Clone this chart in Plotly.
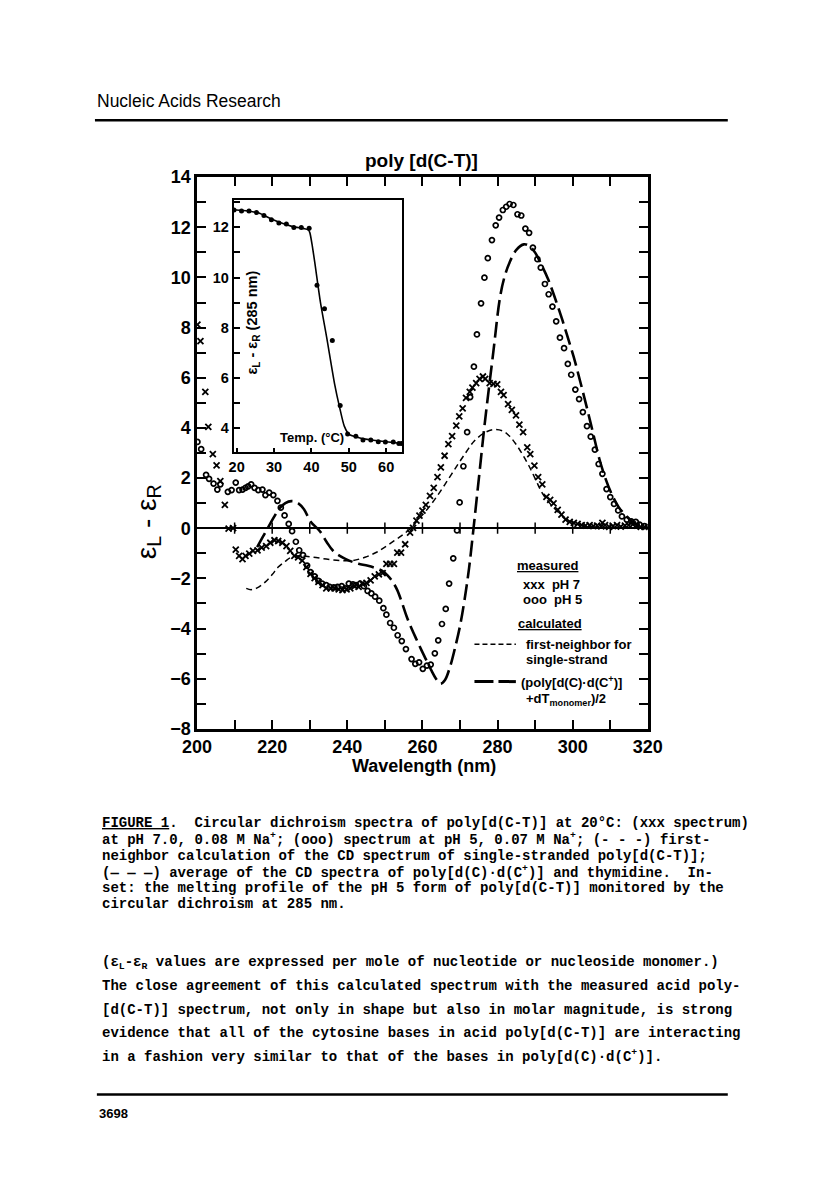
import plotly.graph_objects as go

# pH 7 spectrum (xxx)
ph7_wl = [200.1, 200.9, 202.2, 203.0, 204.2, 205.2, 206.2, 207.4, 208.4, 209.6,
          210.3, 211.2, 212.1, 212.9, 213.9, 214.9, 216.1, 217.2, 218.4, 219.5,
          220.6, 221.6, 222.7, 223.8, 224.8, 225.9, 226.9, 228.0, 229.1, 230.2,
          231.3, 232.3, 233.4, 234.4, 235.6, 236.6, 237.7, 238.7, 239.8, 240.8,
          242.0, 243.0, 244.0, 245.1, 246.2, 247.3, 248.4, 249.4, 250.4, 251.4,
          252.4, 253.3, 254.3, 255.4, 256.7, 257.5, 258.4, 259.2, 260.0, 260.9,
          262.0, 263.0, 264.0, 264.9, 265.9, 266.9, 267.9, 269.0, 269.8, 270.7,
          271.6, 272.6, 273.3, 274.3, 275.2, 276.1, 276.7, 277.9, 278.9, 279.9,
          280.9, 281.6, 282.8, 283.8, 284.9, 285.8, 286.8, 287.9, 288.7, 289.8,
          290.8, 291.9, 293.0, 294.0, 294.9, 296.0, 297.0, 298.1, 299.2, 300.3,
          301.3, 302.4, 303.4, 304.5, 305.5, 306.5, 307.6, 307.9, 308.6, 309.7,
          310.7, 311.8, 312.8, 313.9, 314.9, 316.0, 317.0, 318.1, 319.1]
ph7_val = [8.12, 7.46, 5.44, 4.04, 2.95, 2.51, 1.88, 0.93, -0.02, 0.0,
           -0.85, -1.10, -1.23, -1.10, -1.01, -0.90, -0.88, -0.77, -0.71, -0.58,
           -0.48, -0.51, -0.58, -0.71, -0.90, -1.10, -1.16, -1.29, -1.55, -1.82,
           -1.99, -2.14, -2.27, -2.40, -2.40, -2.40, -2.44, -2.47, -2.44, -2.40,
           -2.31, -2.34, -2.21, -2.18, -2.08, -1.92, -1.84, -1.79, -1.42, -1.42,
           -1.42, -0.97, -0.97, -0.64, -0.18, 0.01, 0.30, 0.50, 0.70, 0.93,
           1.29, 1.61, 2.04, 2.43, 2.89, 3.35, 3.67, 4.09, 4.46, 4.78,
           5.20, 5.44, 5.61, 5.79, 5.96, 6.05, 5.96, 5.79, 5.76, 5.74,
           5.44, 5.31, 4.95, 4.72, 4.50, 4.13, 3.83, 3.22, 2.95, 2.50,
           2.04, 1.75, 1.25, 1.13, 0.99, 0.73, 0.54, 0.34, 0.25, 0.21,
           0.17, 0.12, 0.10, 0.12, 0.08, 0.10, 0.07, 0.21, 0.12, 0.05,
           0.08, 0.12, 0.06, 0.10, 0.12, 0.15, 0.10, 0.05, 0.05]

# pH 5 spectrum (ooo)
ph5_wl = [200.1, 201.1, 202.4, 203.2, 204.4, 205.4, 206.2, 208.2, 209.2, 210.3,
          211.2, 212.1, 212.9, 213.6, 214.4, 215.3, 216.3, 217.4, 218.2, 219.2,
          220.3, 221.4, 222.3, 223.3, 224.4, 225.3, 226.3, 227.2, 228.2, 229.3,
          230.2, 231.3, 232.3, 233.3, 234.4, 235.3, 236.4, 237.4, 238.5, 239.4,
          240.4, 241.5, 242.3, 243.4, 244.4, 245.4, 246.4, 247.4, 248.5, 249.6,
          250.4, 251.4, 252.4, 253.4, 254.5, 255.6, 257.1, 258.1, 259.1, 260.1,
          261.2, 262.2, 263.3, 264.2, 265.2, 266.2, 267.1, 268.2, 269.2, 269.9,
          270.9, 271.9, 272.7, 273.7, 274.5, 275.6, 276.5, 277.4, 278.5, 279.5,
          280.4, 281.4, 282.3, 283.2, 284.2, 285.3, 286.3, 287.4, 288.4, 289.4,
          290.6, 291.5, 292.6, 293.6, 294.6, 295.6, 296.6, 297.7, 298.7, 299.6,
          300.7, 301.7, 302.7, 303.8, 304.8, 305.9, 306.9, 307.9, 309.0, 310.0,
          311.0, 312.1, 313.1, 314.4, 315.6, 316.8, 317.8, 319.1]
ph5_val = [3.44, 3.15, 2.13, 1.97, 1.78, 1.54, 1.75, 1.45, 1.52, 1.82,
           1.52, 1.54, 1.61, 1.67, 1.75, 1.61, 1.52, 1.54, 1.32, 1.42,
           1.32, 1.09, 0.82, 0.51, 0.17, -0.12, -0.54, -0.88, -1.07, -1.49,
           -1.75, -1.92, -2.10, -2.21, -2.27, -2.34, -2.36, -2.34, -2.31, -2.40,
           -2.21, -2.24, -2.27, -2.21, -2.31, -2.50, -2.60, -2.73, -2.89, -3.19,
           -3.45, -3.78, -3.97, -4.27, -4.50, -4.82, -5.22, -5.41, -5.35, -5.61,
           -5.48, -5.44, -4.99, -4.47, -3.82, -3.22, -2.21, -1.20, -0.09, 1.03,
           2.47, 3.83, 5.23, 6.44, 7.73, 8.97, 9.99, 10.77, 11.49, 12.08,
           12.39, 12.69, 12.82, 12.93, 12.89, 12.52, 12.47, 11.95, 11.78, 11.19,
           10.73, 10.39, 9.74, 9.33, 8.84, 8.25, 7.60, 7.18, 6.55, 6.12,
           5.53, 5.15, 4.63, 4.07, 3.65, 3.13, 2.56, 2.17, 1.56, 1.24,
           0.97, 0.71, 0.47, 0.34, 0.27, 0.25, 0.14, 0.08]

# first-neighbor calculation, single strand (short dashes)
fn_wl = [213.1, 214.4, 216.0, 218.2, 220.0, 221.6, 223.5, 225.1, 227.6, 231.0,
         234.4, 237.9, 241.3, 244.7, 247.5, 249.8, 252.5, 254.9, 257.0, 259.2,
         261.8, 264.4, 267.0, 269.5, 271.7, 273.8, 276.5, 278.9, 281.5, 283.3,
         284.9, 286.6, 288.3, 290.0, 291.7, 293.4, 295.1, 296.8, 298.5, 300.3,
         302.0, 304.5, 307.1, 311.0, 316.0]
fn_val = [-2.40, -2.45, -2.38, -2.14, -1.85, -1.55, -1.32, -1.16, -1.10, -1.16,
          -1.23, -1.29, -1.29, -1.16, -0.98, -0.77, -0.50, -0.25, 0.02, 0.40,
          0.85, 1.39, 1.98, 2.56, 3.05, 3.48, 3.80, 3.93, 3.87, 3.65,
          3.35, 2.95, 2.50, 1.98, 1.45, 1.08, 0.80, 0.55, 0.34, 0.22,
          0.14, 0.07, 0.03, 0.01, 0.0]

# (poly[d(C).d(C+)] + dT monomer)/2 (long dashes)
avg_wl = [216.0, 217.5, 219.0, 220.5, 222.0, 223.5, 225.1, 226.7, 228.5, 230.2,
          232.7, 234.5, 236.2, 238.0, 239.6, 241.5, 243.0, 245.5, 248.1, 249.5,
          250.7, 252.0, 253.3, 254.5, 255.8, 257.1, 258.4, 259.7, 260.9, 262.3,
          263.6, 264.8, 266.0, 267.3, 268.6, 270.0, 271.2, 272.4, 273.6, 275.1,
          276.6, 278.9, 280.6, 281.8, 283.2, 285.0, 287.0, 288.5, 290.0, 291.7,
          293.4, 295.0, 296.8, 298.5, 300.3, 302.0, 303.7, 305.4, 307.1, 308.8,
          310.5, 312.2, 313.9, 315.6, 317.4, 319.0, 320.0]
avg_val = [-0.75, -0.35, 0.05, 0.45, 0.80, 1.00, 1.08, 1.02, 0.75, 0.27,
           -0.12, -0.55, -0.90, -1.10, -1.23, -1.35, -1.42, -1.50, -1.62, -1.72,
           -1.88, -2.12, -2.47, -2.95, -3.52, -4.00, -4.43, -4.85, -5.22, -5.65,
           -6.00, -6.20, -6.05, -5.55, -4.82, -3.90, -2.86, -1.60, 0.0, 2.10,
           4.20, 7.07, 9.16, 10.00, 10.60, 11.10, 11.32, 11.25, 10.99, 10.50,
           9.95, 9.30, 8.51, 7.70, 6.81, 5.85, 4.85, 3.80, 2.76, 1.95,
           1.32, 0.85, 0.54, 0.30, 0.14, 0.05, 0.02]

# inset: melting profile at 285 nm
melt_t = [19.3, 21.3, 23.3, 25.3, 27.3, 29.3, 31.3, 33.3, 35.3, 37.3, 39.4,
          41.5, 43.5, 45.6, 47.7, 49.7, 51.9, 53.8, 55.9, 57.9, 59.8, 61.9,
          63.4, 64.1]
melt_val = [12.69, 12.65, 12.65, 12.59, 12.47, 12.30, 12.17, 12.13, 11.99, 11.99,
            11.96, 9.69, 8.75, 7.49, 4.89, 3.76, 3.67, 3.52, 3.52, 3.45, 3.44,
            3.44, 3.38, 3.38]
melt_fit_t = [19.3, 23, 26, 29, 32, 35, 38, 39.2, 39.6, 40.2, 40.9, 42.4, 44.1,
              46.2, 47.5, 48.8, 50.1, 52.7, 56, 60, 64.3]
melt_fit_val = [12.7, 12.65, 12.57, 12.35, 12.17, 12.03, 11.95, 11.9, 11.78, 11.3,
                10.6, 9.03, 7.6, 5.76, 4.85, 4.07, 3.74, 3.61, 3.52, 3.45, 3.38]

zero_ticks = list(range(210, 320, 10))

W, H = 816, 1199


def px(x):
    return x / W


def py(y):
    return 1 - y / H


SANS = "Liberation Sans"
MONO = "Liberation Mono"

fig = go.Figure()

fig.add_trace(go.Scatter(x=fn_wl, y=fn_val, mode="lines", line_shape="spline",
                         line=dict(color="black", width=1.5, dash="6px,4px")))
fig.add_trace(go.Scatter(x=avg_wl, y=avg_val, mode="lines", line_shape="spline",
                         line=dict(color="black", width=2.6, dash="16px,6px")))
fig.add_trace(go.Scatter(x=ph7_wl, y=ph7_val, mode="markers",
                         marker=dict(symbol="x-thin", size=6, line=dict(width=1.8, color="black"))))
fig.add_trace(go.Scatter(x=ph5_wl, y=ph5_val, mode="markers",
                         marker=dict(symbol="circle-open", size=5, color="black", line=dict(width=1.7))))
fig.add_trace(go.Scatter(x=zero_ticks, y=[0] * len(zero_ticks), mode="markers",
                         marker=dict(symbol="line-ns", size=8, line=dict(width=1.5, color="black"))))

# inset
fig.add_trace(go.Scatter(x=melt_fit_t, y=melt_fit_val, mode="lines", line_shape="spline",
                         line=dict(color="black", width=1.6, smoothing=0.6),
                         xaxis="x2", yaxis="y2"))
fig.add_trace(go.Scatter(x=melt_t, y=melt_val, mode="markers",
                         marker=dict(symbol="circle", size=5, color="black"),
                         xaxis="x2", yaxis="y2"))

axis_common = dict(showgrid=False, showline=True, linecolor="black", ticks="inside",
                   tickcolor="black", zeroline=False)

fig.update_layout(
    width=W, height=H, margin=dict(l=0, r=0, t=0, b=0),
    paper_bgcolor="white", plot_bgcolor="white", showlegend=False,
    xaxis=dict(axis_common, domain=[px(189), px(657)], range=[200, 320],
               tick0=200, dtick=20, ticklen=9, tickwidth=2, linewidth=2.5, mirror="ticks",
               minor=dict(dtick=10, ticks="inside", ticklen=9, tickwidth=2, tickcolor="black"),
               tickfont=dict(family=SANS, size=18, color="black", weight="bold")),
    yaxis=dict(axis_common, domain=[py(731), py(170)], range=[-8, 14],
               tick0=0, dtick=2, ticklen=9, tickwidth=2, linewidth=2.5, mirror="ticks",
               zeroline=True, zerolinecolor="black", zerolinewidth=2,
               minor=dict(dtick=1, ticks="inside", ticklen=9, tickwidth=2, tickcolor="black"),
               tickfont=dict(family=SANS, size=18, color="black", weight="bold")),
    xaxis2=dict(axis_common, domain=[px(227), px(402)], range=[19.2, 64.3], anchor="y2",
                tick0=20, dtick=10, ticklen=5, tickwidth=1.5, linewidth=1.8, mirror=True,
                tickfont=dict(family=SANS, size=14.5, color="black", weight="bold")),
    yaxis2=dict(axis_common, domain=[py(450), py(193)], range=[3.02, 13.1], anchor="x2",
                tick0=4, dtick=2, ticklen=6, tickwidth=1.5, linewidth=1.8, mirror=True,
                minor=dict(dtick=1, ticks="inside", ticklen=6, tickwidth=1.5, tickcolor="black"),
                tickfont=dict(family=SANS, size=14.5, color="black", weight="bold")),
)


def note(text, x, y, size, family=SANS, anchor="left", weight="normal", angle=0):
    fig.add_annotation(text=text, x=px(x), y=py(y), xref="paper", yref="paper",
                       xanchor=anchor, yanchor="middle", showarrow=False, textangle=angle,
                       font=dict(family=family, size=size, color="black", weight=weight))


# page furniture
note("Nucleic Acids Research", 83, 93, 17.5)
note("3698", 85, 1122, 13, weight="bold")
fig.add_shape(type="line", xref="paper", yref="paper", x0=px(83), x1=px(740),
              y0=py(112), y1=py(112), line=dict(color="black", width=2.5))
fig.add_shape(type="line", xref="paper", yref="paper", x0=px(85), x1=px(740),
              y0=py(1103), y1=py(1103), line=dict(color="black", width=2.5))

# chart labels
note("poly [d(C-T)]", 422, 153, 19, anchor="center", weight="bold")
note("Wavelength (nm)", 425, 769, 18, anchor="center", weight="bold")
note("ε<sub>L</sub> - ε<sub>R</sub>", 138, 520, 28, anchor="center", angle=-90)
note("ε<sub>L</sub> - ε<sub>R</sub> (285 nm)", 247, 318, 14.5, anchor="center", weight="bold", angle=-90)
note("Temp. (°C)", 308, 435, 13, anchor="center", weight="bold")

# legend
note("<u>measured</u>", 553, 565, 13, anchor="center", weight="bold")
note("xxx  pH 7", 525, 584, 13, weight="bold")
note("ooo  pH 5", 525, 600, 13, weight="bold")
note("<u>calculated</u>", 555, 624, 13, anchor="center", weight="bold")
note("first-neighbor for", 528, 645, 13, weight="bold")
note("single-strand", 528, 661, 13, weight="bold")
note("(poly[d(C)·d(C<sup>+</sup>)]", 523, 683, 13, weight="bold")
note("+dT<sub>monomer</sub>)/2", 528, 701, 13, weight="bold")
fig.add_shape(type="line", xref="paper", yref="paper", x0=px(477), x1=px(520),
              y0=py(645), y1=py(645), line=dict(color="black", width=1.5, dash="5px,3px"))
fig.add_shape(type="line", xref="paper", yref="paper", x0=px(477), x1=px(520),
              y0=py(683), y1=py(683), line=dict(color="black", width=3, dash="19px,5px"))

# caption
caption = [
    "<u>FIGURE 1</u>.\u00a0 Circular dichroism spectra of poly[d(C-T)] at 20°C: (xxx spectrum)",
    "at pH 7.0, 0.08 M Na<sup>+</sup>; (ooo) spectrum at pH 5, 0.07 M Na<sup>+</sup>; (- - -) first-",
    "neighbor calculation of the CD spectrum of single-stranded poly[d(C-T)];",
    "(— — —) average of the CD spectra of poly[d(C)·d(C<sup>+</sup>)] and thymidine.\u00a0 In-",
    "set: the melting profile of the pH 5 form of poly[d(C-T)] monitored by the",
    "circular dichroism at 285 nm.",
]
for i, line in enumerate(caption):
    note(line, 88, 827 + i * 16.5, 14, family=MONO, weight="bold")

body = [
    "(ε<sub>L</sub>-ε<sub>R</sub> values are expressed per mole of nucleotide or nucleoside monomer.)",
    "The close agreement of this calculated spectrum with the measured acid poly-",
    "[d(C-T)] spectrum, not only in shape but also in molar magnitude, is strong",
    "evidence that all of the cytosine bases in acid poly[d(C-T)] are interacting",
    "in a fashion very similar to that of the bases in poly[d(C)·d(C<sup>+</sup>)].",
]
for i, line in enumerate(body):
    note(line, 88, 969 + i * 23.8, 14, family=MONO, weight="bold")

fig.write_html("out.html", config={"displayModeBar": False},
               post_script="document.body.style.margin='0px';")
